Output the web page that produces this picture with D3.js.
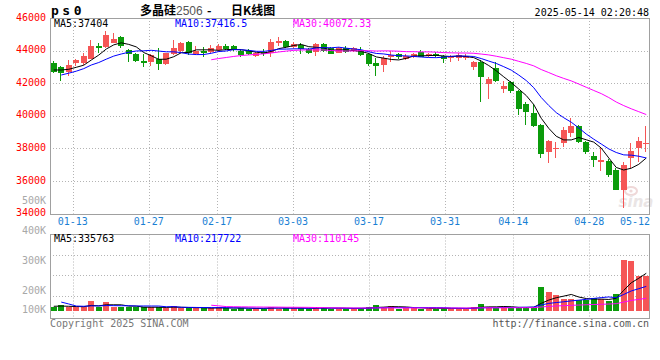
<!DOCTYPE html>
<html><head><meta charset="utf-8">
<script src="https://cdn.jsdelivr.net/npm/d3@7"></script>
<style>body{margin:0;background:#fff}svg{display:block}</style>
</head><body><svg id="c" width="660" height="360"></svg>
<script>
// ---------------- data ----------------
const dates = ["01-08","01-09","01-10","01-13","01-14","01-15","01-16","01-17","01-20","01-21","01-22","01-23","01-24","01-27",
"02-05","02-06","02-07","02-10","02-11","02-12","02-13","02-14","02-17","02-18","02-19","02-20","02-21","02-24","02-25","02-26","02-27","02-28",
"03-03","03-04","03-05","03-06","03-07","03-10","03-11","03-12","03-13","03-14","03-17","03-18","03-19","03-20","03-21","03-24","03-25","03-26","03-27","03-28","03-31",
"04-01","04-02","04-03","04-07","04-08","04-09","04-10","04-11","04-14","04-15","04-16","04-17","04-18","04-21","04-22","04-23","04-24","04-25","04-28","04-29","04-30",
"05-06","05-07","05-08","05-09","05-12","05-13"];
const openP  = [43221,43012,42669,43258,43258,43485,44301,44239,44485,44853,44037,43791,43362,43319,43485,43160,43791,43994,44509,43791,43994,43933,44037,44282,44282,43976,43976,43669,43914,43871,44448,44589,44220,44343,44080,43933,44405,44141,43871,44141,43994,44037,43791,43258,43117,43589,43791,43466,43626,43914,43669,43822,43669,43528,43528,43546,43012,43319,41951,42951,41644,42092,41540,40724,40190,39436,37797,37980,38313,38926,39374,38411,37534,37184,37245,36675,35448,37393,38043,38270];
const highP  = [43362,43055,43423,43485,43871,44650,44485,45202,45061,44896,44080,43834,43791,43791,44141,43871,44650,44546,44589,44282,44202,44343,44405,44405,44343,44080,44080,43933,44098,44693,44853,44650,44500,44448,44141,44448,44448,44239,44239,44282,44239,44202,43834,43528,43669,43994,43871,43791,43834,44037,43871,43914,43730,43730,43834,43791,43380,43423,42362,43270,42135,42135,41583,40846,40724,39480,38515,38411,39331,39847,39436,38454,37797,38006,37331,36798,37184,38313,38681,39374];
const lowP   = [42644,42153,42442,43055,43117,43466,43834,44141,44448,44141,43319,43319,42975,43055,42810,43117,43730,43834,43730,43748,43626,43834,43933,44037,43994,43626,43730,43589,43669,43626,44282,44141,44170,43791,43791,43669,43933,43791,43834,43871,43933,43669,43074,42442,42706,43319,43466,43423,43528,43577,43626,43607,43258,43319,43380,43423,42828,40865,41012,42092,41380,41417,40049,39436,39294,37393,37123,37393,38104,38718,38313,37638,36877,36632,36227,35448,34362,36779,37184,37797];
const closeP = [42706,42607,43117,43423,43669,44282,44141,44957,44712,44301,43791,43380,43221,43730,43196,43834,44141,44448,43834,43976,43834,44141,44282,44080,44037,43730,43791,43871,43791,44546,44607,44202,44430,44098,43871,44405,43994,43791,44141,43933,44141,43730,43178,43074,43564,43730,43589,43669,43791,43607,43822,43650,43466,43626,43749,43687,43319,42399,42258,42135,41847,41540,40436,40251,39374,37638,38454,38010,39129,39374,38374,37761,37288,37288,36368,35448,36982,37840,38472,38313];
const volume = [30000,50000,30000,30000,32000,88000,30000,78000,30000,30000,32000,28000,30000,28000,30000,22000,42000,22000,20000,22000,20000,24000,30000,20000,18000,20000,18000,20000,18000,36000,18000,20000,22000,20000,18000,30000,20000,18000,18000,16000,20000,22000,30000,50000,30000,42000,18000,20000,22000,18000,
18000,18000,20000,18000,18000,20000,30000,60000,35000,20000,35000,20000,30000,32000,29000,
212000,167000,137000,104000,104000,97000,97000,110000,107000,87000,148000,458000,450000,312000,311000];
// closes / volumes of the sessions before the visible window (used only for the moving averages)
const preCloses  = [42000,42200,42100,42073,42607,42902,42813,43022];
const preVolumes = [200000,220000,50000,50000,40000,40000,40000,40000];
const priceTicks = [46000,44000,42000,40000,38000,36000,34000];
const xTickDates = ["01-13","01-27","02-17","03-03","03-17","03-31","04-14","04-28","05-12"];
const volTickVals = [500000,400000,300000,200000,100000];
const volTickText = ["500K","400K","300K","200K","100K"];
const maPeriods = [5,10,30];
const maColors = ["#000000","#0000ff","#ff00ff"];
const priceLegend = ["MA5:37404","MA10:37416.5","MA30:40072.33"];
const volLegend = ["MA5:335763","MA10:217722","MA30:110145"];

// ---------------- layout ----------------
const svg = d3.select("#c");
const L=50, R=650, T=18, B=213.6;
const VT=234.5, VB=318, VBase=310.5;
const RED="#f55555", GREEN="#0b9b0b", GRID="#b4b4b4", FRAME="#a0a0a0";
const MONO="'DejaVu Sans Mono', monospace";
const n = dates.length;

const x = d3.scaleBand().domain(d3.range(n)).range([L,R]);
const xc = i => x(i) + x.bandwidth()/2;
const xg = d3.scaleLinear().domain([0,n-1]).range([L,R]);
const y = d3.scaleLinear().domain([34000,46000]).range([B,T]);
const yv = d3.scaleLinear().domain([0,688000]).range([VBase,VBase-688000/9025]);
const yvLabel = d3.scaleLinear().domain([200000,500000]).range([294,204]);

function ma(pre, arr, p){
  const all = pre.concat(arr), off = pre.length, out=[];
  for(let i=0;i<arr.length;i++){
    const k=i+off; if(k+1<p) continue;
    out.push({i, v:d3.mean(all.slice(k+1-p,k+1))});
  }
  return out;
}

// grids
const gMain = svg.append("g");
priceTicks.filter(t=>t<46000&&t>34000).forEach(t=>{
  gMain.append("line").attr("x1",L).attr("x2",R).attr("y1",Math.round(y(t))+0.5).attr("y2",Math.round(y(t))+0.5)
   .attr("stroke",GRID).attr("stroke-dasharray","1,2");
});
[1,2,3].forEach(k=>{
  const yy=Math.round(VT+k*20.4)+0.5;
  svg.append("line").attr("x1",L).attr("x2",R).attr("y1",yy).attr("y2",yy).attr("stroke",GRID).attr("stroke-dasharray","1,2");
});
xTickDates.forEach(d=>{
  const i=dates.indexOf(d), xx=Math.round(xg(i))+0.5;
  if(xg(i)>R-12) return;
  svg.append("line").attr("x1",xx).attr("x2",xx).attr("y1",T).attr("y2",B).attr("stroke",GRID).attr("stroke-dasharray","1,2");
  svg.append("line").attr("x1",xx).attr("x2",xx).attr("y1",VT).attr("y2",VB).attr("stroke",GRID).attr("stroke-dasharray","1,2");
});

// watermark
const wm = svg.append("g").attr("opacity",0.55);
wm.append("ellipse").attr("cx",631).attr("cy",191).attr("rx",6).attr("ry",4).attr("fill","none").attr("stroke","#e3b9b9").attr("stroke-width",2);
wm.append("circle").attr("cx",631).attr("cy",191).attr("r",1.6).attr("fill","#e3b9b9");
wm.append("text").attr("x",636).attr("y",207).attr("text-anchor","middle").attr("font-family","'DejaVu Sans', sans-serif")
  .attr("font-size",15).attr("font-style","italic").attr("font-weight","bold").attr("fill","#d9d0d0").text("sina");

// candles
const cg = svg.append("g").attr("shape-rendering","crispEdges");
d3.range(n).forEach(i=>{
  const o=openP[i], c=closeP[i], up=c>=o, col=up?RED:GREEN;
  const left=Math.round(xc(i)-3);
  cg.append("rect").attr("x",left+2).attr("width",1).attr("y",Math.round(y(highP[i])))
    .attr("height",Math.max(1,Math.round(y(lowP[i]))-Math.round(y(highP[i])))).attr("fill",col);
  const t=Math.round(y(Math.max(o,c))), b=Math.round(y(Math.min(o,c)));
  cg.append("rect").attr("x",left).attr("width",6).attr("y",t).attr("height",Math.max(1,b-t)).attr("fill",col);
});
// MA lines main
maPeriods.forEach((p,k)=>{
  const pts=ma(preCloses,closeP,p);
  svg.append("path").datum(pts).attr("fill","none").attr("stroke",maColors[k]).attr("stroke-width",1)
    .attr("d",d3.line().x(d=>xc(d.i)).y(d=>y(d.v)));
});

// volume bars
const vg = svg.append("g").attr("shape-rendering","crispEdges");
d3.range(n).forEach(i=>{
  const up=closeP[i]>=openP[i];
  const left=Math.round(xc(i)-3), t=Math.round(yv(volume[i]));
  vg.append("rect").attr("x",left).attr("width",6).attr("y",t).attr("height",Math.max(1,Math.round(yv(0))-t)).attr("fill",up?RED:GREEN);
});
maPeriods.forEach((p,k)=>{
  const pts=ma(preVolumes,volume,p);
  svg.append("path").datum(pts).attr("fill","none").attr("stroke",maColors[k]).attr("stroke-width",1)
    .attr("d",d3.line().x(d=>xc(d.i)).y(d=>yv(d.v)));
});

// frames
svg.append("rect").attr("x",L+0.5).attr("y",T+0.5).attr("width",R-L-1).attr("height",Math.round(B-T)).attr("fill","none").attr("stroke",FRAME).attr("shape-rendering","crispEdges");
svg.append("rect").attr("x",L+0.5).attr("y",VT).attr("width",R-L-1).attr("height",VB-VT).attr("fill","none").attr("stroke",FRAME).attr("shape-rendering","crispEdges");

// axis labels
const txt=(xx,yy,s,opt={})=>svg.append("text").attr("x",xx).attr("y",yy).attr("font-family",opt.ff||MONO)
  .attr("font-size",opt.fs||10).attr("fill",opt.fill||"#000").attr("text-anchor",opt.anchor||"start")
  .attr("font-weight",opt.fw||"normal").text(s);
priceTicks.forEach(t=>txt(46,y(t)+2.5,String(t),{fill:"#ff0000",anchor:"end"}));
volTickVals.forEach((v,k)=>txt(46,Math.min(yvLabel(v),313.3),volTickText[k],{fill:"#a8a8a8",anchor:"end"}));
xTickDates.forEach(d=>{
  const i=dates.indexOf(d); let xx=xg(i);
  xx=Math.min(xx,R-15);
  txt(xx,225,d,{fill:"#1a7fd4",anchor:"middle"});
});

// header
txt(51,15,"ps0",{fs:13,fw:"bold"}).attr("letter-spacing",3.5);
const title=svg.append("text").attr("y",15).attr("font-size",12).attr("font-family","'Noto Sans CJK SC', sans-serif");
title.append("tspan").attr("x",140).attr("font-weight","bold").text("多晶硅");
title.append("tspan").attr("x",176).attr("fill","#555").attr("font-family","'Liberation Sans', sans-serif").text("2506");
title.append("tspan").attr("x",207).attr("font-weight","bold").text("-");
title.append("tspan").attr("x",231).attr("font-weight","bold").text("日K线图");
txt(649,16,"2025-05-14 02:20:48",{anchor:"end"});
[54,175,293].forEach((xx,k)=>txt(xx,27,priceLegend[k],{fill:maColors[k]}));
[54,175,293].forEach((xx,k)=>txt(xx,242,volLegend[k],{fill:maColors[k]}));

// footer
txt(50,327,"Copyright 2025 SINA.COM",{fill:"#777"});
txt(649,327,"http://finance.sina.com.cn",{fill:"#555",anchor:"end"});
</script></body></html>
